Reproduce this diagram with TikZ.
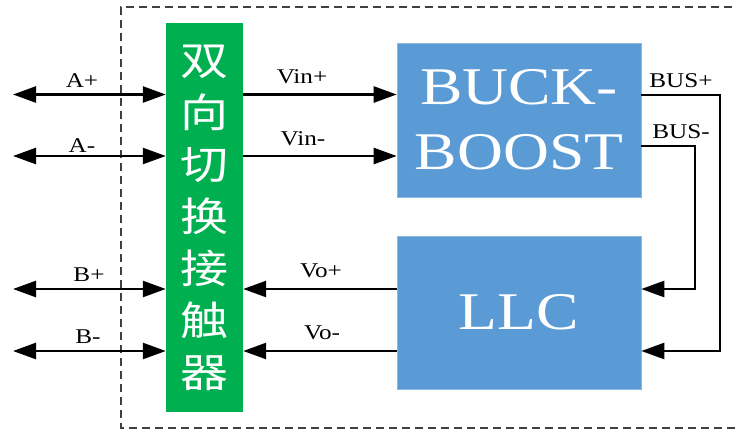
\documentclass[tikz,border=0pt]{standalone}
\usepackage{fontspec}
\setmainfont{Liberation Serif}
\newfontfamily\wideserif[FakeStretch=1.2]{Liberation Serif}
\newfontfamily\cjkfont[FakeStretch=1.2]{Noto Sans CJK SC}
\usetikzlibrary{arrows.meta}
\definecolor{boxgreen}{HTML}{00B050}
\definecolor{boxblue}{HTML}{5B9BD5}
\definecolor{dashgray}{HTML}{404040}
\begin{document}
\begin{tikzpicture}[x=1pt,y=-1pt,
  wire/.style={line width=2.5pt,line join=miter},
  tip/.style={-{Triangle[length=23pt,width=16pt]}},
  dtip/.style={{Triangle[length=23pt,width=16pt]}-{Triangle[length=23pt,width=16pt]}},
  lbl/.style={anchor=base,inner sep=0pt,font=\wideserif\fontsize{21}{21}\selectfont},
  bluebox/.style={fill=boxblue,draw=boxblue!70!white,line width=0.6pt,inner sep=0pt,text=white,
    minimum width=244pt,align=center}]
\useasboundingbox (0,0) rectangle (737,432);
\begin{scope}
\clip (0,0) rectangle (737,432);
\draw[dashgray,line width=1.3pt,dash pattern=on 8pt off 5pt] (745,7) -- (121,7) -- (121,428) -- (745,428);
\end{scope}
% boxes
\node[fill=boxgreen,inner sep=0pt,minimum width=77pt,minimum height=389pt,text=white,align=center,
  font=\cjkfont\fontsize{40}{52}\selectfont] (sw) at (204.5,217.5)
  {双\\向\\切\\换\\接\\触\\器};
\node[bluebox,minimum height=154pt,font=\wideserif\fontsize{53}{65}\selectfont] (bb) at (519,120) {BUCK-\\BOOST};
\node[bluebox,minimum height=153pt,font=\wideserif\fontsize{53}{53}\selectfont] (llc) at (519,312.5) {LLC};
% outer coordinates
\coordinate (ap) at (13,94.5);
\coordinate (am) at (13,156);
\coordinate (bp) at (13,289);
\coordinate (bm) at (13,351);
\coordinate (bus1) at (720,95);
\coordinate (bus2) at (695,146);
% left double arrows
\draw[wire,dtip] (ap) -- (ap -| sw.west);
\draw[wire,dtip] (am) -- (am -| sw.west);
\draw[wire,dtip] (bp) -- (bp -| sw.west);
\draw[wire,dtip] (bm) -- (bm -| sw.west);
% middle arrows
\draw[wire,tip] (ap -| sw.east) -- (ap -| bb.west);
\draw[wire,tip] (am -| sw.east) -- (am -| bb.west);
\draw[wire,tip] (bp -| llc.west) -- (bp -| sw.east);
\draw[wire,tip] (bm -| llc.west) -- (bm -| sw.east);
% bus lines
\draw[wire,tip] (bus1 -| bb.east) -- (bus1) -- (bus1 |- bm) -- (bm -| llc.east);
\draw[wire,tip] (bus2 -| bb.east) -- (bus2) -- (bus2 |- bp) -- (bp -| llc.east);
% labels
\node[lbl] (lap) at (82,87) {A+};
\node[lbl] (lam) at (82,152.5) {A-};
\node[lbl] (lbp) at (89,281) {B+};
\node[lbl] (lbm) at (88,343) {B-};
\node[lbl] (lvip) at (302,83) {Vin+};
\node[lbl] (lvim) at (303,145) {Vin-};
\node[lbl] (lvop) at (321,277) {Vo+};
\node[lbl] (lvom) at (322,339) {Vo-};
\node[lbl] (lbusp) at (681,87) {BUS+};
\node[lbl] (lbusm) at (681,138) {BUS-};
\end{tikzpicture}
\end{document}
